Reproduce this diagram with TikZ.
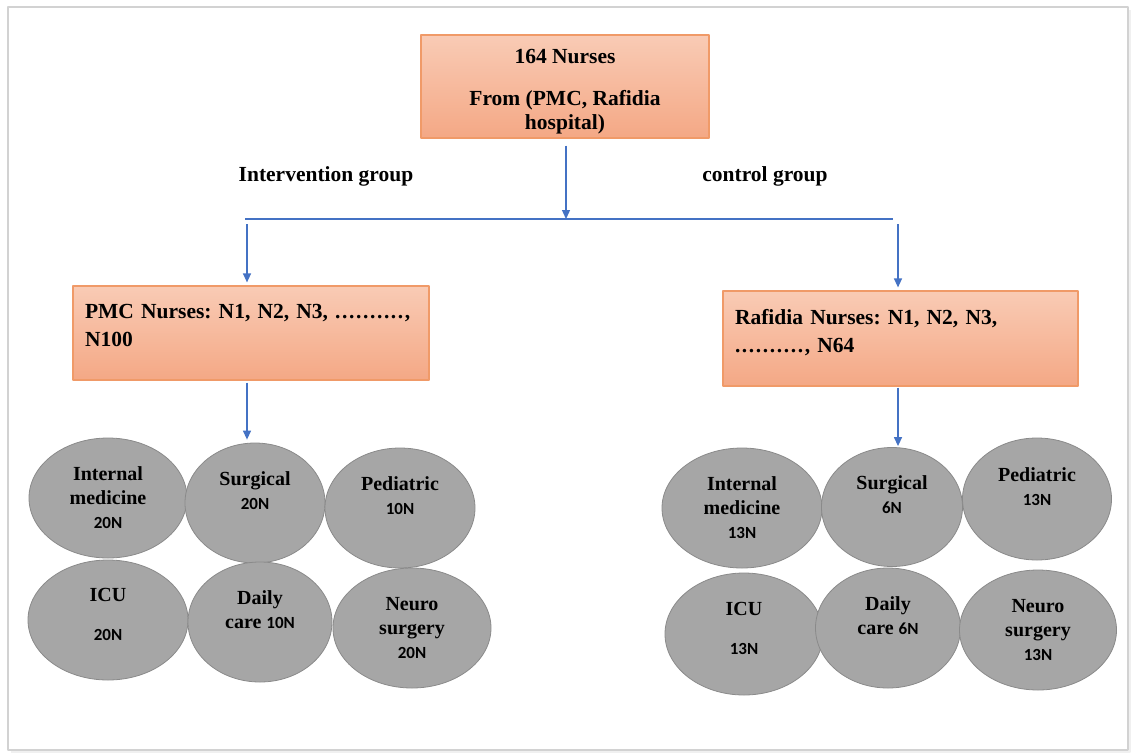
\documentclass[tikz,border=0pt]{standalone}
\usepackage{fontspec}
\setmainfont{Liberation Serif}
\newfontfamily\numfont{Carlito}
\usetikzlibrary{arrows.meta,shapes.geometric,positioning}
\definecolor{boxedge}{HTML}{F09A68}
\definecolor{boxtop}{HTML}{F9CBB5}
\definecolor{boxbottom}{HTML}{F4A885}
\definecolor{wardfill}{HTML}{A6A6A6}
\definecolor{wardedge}{HTML}{8A8A8A}
\definecolor{linkblue}{HTML}{4472C4}
\definecolor{framegray}{HTML}{D2D2D2}
\tikzset{
  every picture/.style={line join=round, >=Triangle},
  groupbox/.style={draw=boxedge, line width=1.2pt, top color=boxtop, bottom color=boxbottom,
    font=\fontsize{21.5}{28}\selectfont\bfseries, inner sep=0pt},
  ward/.style={ellipse, draw=wardedge, fill=wardfill, line width=0.8pt, align=center,
    inner sep=0pt, font=\fontsize{20}{24}\selectfont\bfseries},
  grouplabel/.style={font=\fontsize{21.5}{26}\selectfont\bfseries},
  link/.style={linkblue, line width=1.3pt},
  flow/.style={link, -{Triangle[length=9pt,width=8pt]}},
}
\newcommand{\nn}[1]{{\numfont\fontsize{17}{24}\selectfont #1}}
\newcommand{\dotrun}{\foreach \d in {1,...,10}{.\kern1.6pt}}
\frenchspacing

\begin{document}
\begin{tikzpicture}[x=1pt,y=-1pt]
\useasboundingbox (0,0) rectangle (1132,753);
% page frame
\draw[black!6, line width=2.5pt] (11,752) -- (1130,752) -- (1130,10);
\draw[framegray, line width=1.2pt] (8,7) rectangle (1128,750);

% sample and groups
\node[groupbox, minimum width=288pt, minimum height=103pt, align=center,
  font=\fontsize{21.5}{24}\selectfont\bfseries] (top) at (565,86.5)
  {\mbox{}\\164 Nurses\\[18pt]From (PMC, Rafidia\\hospital)};
\node[grouplabel] (intlabel) at (326,176) {Intervention group};
\node[grouplabel] (ctrllabel) at (765,176) {control group};
\node[groupbox, minimum width=356pt, minimum height=94pt, text width=332pt, align=left] (pmc) at (251,333)
  {\mbox{PMC Nurses: N1, N2, N3, \dotrun,}\\N100\\[-12pt]\mbox{}};
\node[groupbox, minimum width=355pt, minimum height=95pt, text width=331pt, align=left] (raf) at (900.5,338.5)
  {Rafidia Nurses: N1, N2, N3,\\\dotrun, N64\\[-12pt]\mbox{}};

% wards, intervention group
\node[ward, minimum width=158pt, minimum height=120pt] (pmcint) at (108,498) {Internal\\medicine\\\nn{20N}};
\node[ward, minimum width=140pt, minimum height=120pt] (pmcsurg) at (255,503) {Surgical\\\nn{20N}\\\mbox{}};
\node[ward, minimum width=150pt, minimum height=120pt] (pmcped) at (400,508) {Pediatric\\\nn{10N}\\\mbox{}};
\node[ward, minimum width=160pt, minimum height=120pt] (pmcicu) at (108,620) {ICU\\[15pt]\nn{20N}\\[-12pt]\mbox{}};
\node[ward, minimum width=144pt, minimum height=120pt] (pmcdaily) at (260,622) {Daily\\care \nn{10N}\\\mbox{}};
\node[ward, minimum width=158pt, minimum height=120pt] (pmcneuro) at (412,628) {Neuro\\surgery\\\nn{20N}};

% wards, control group
\node[ward, minimum width=160pt, minimum height=120pt] (rafint) at (742,508) {Internal\\medicine\\\nn{13N}};
\node[ward, minimum width=141pt, minimum height=119pt] (rafsurg) at (892,507) {Surgical\\\nn{6N}\\\mbox{}};
\node[ward, minimum width=149pt, minimum height=122pt] (rafped) at (1037,499) {Pediatric\\\nn{13N}\\\mbox{}};
\node[ward, minimum width=158pt, minimum height=122pt] (raficu) at (744,634) {ICU\\[15pt]\nn{13N}\\[-12pt]\mbox{}};
\node[ward, minimum width=145pt, minimum height=120pt] (rafdaily) at (888,628) {Daily\\care \nn{6N}\\\mbox{}};
\node[ward, minimum width=157pt, minimum height=120pt] (rafneuro) at (1038,630) {Neuro\\surgery\\\nn{13N}};

% connectors
\coordinate (split) at (566,219);
\coordinate (busL) at (245,219);
\coordinate (busR) at (893,219);
\coordinate (dropL) at (247,224);
\coordinate (dropR) at (898,224);
\draw[flow, shorten <=7pt] (split |- top.south) -- (split);
\draw[link] (busL) -- (busR);
\draw[flow, shorten >=3pt] (dropL) -- (dropL |- pmc.north);
\draw[flow, shorten >=3pt] (dropR) -- (dropR |- raf.north);
\draw[flow, shorten <=2pt, shorten >=3pt] (dropL |- pmc.south) -- (dropL |- pmcsurg.north);
\draw[flow, shorten <=1pt, shorten >=1pt] (dropR |- raf.south) -- (dropR |- rafsurg.north);
\end{tikzpicture}
\end{document}
